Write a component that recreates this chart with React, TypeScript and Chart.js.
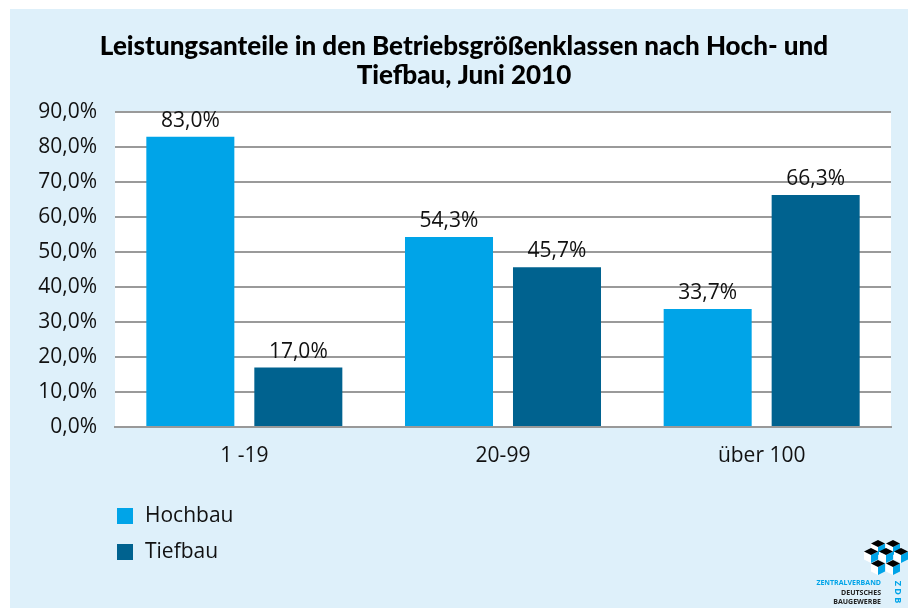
import React, { useEffect, useRef } from "react";
import { Chart, registerables } from "chart.js";

Chart.register(...registerables);

const titleLines = ["Leistungsanteile in den Betriebsgrößenklassen nach Hoch- und", "Tiefbau, Juni 2010"];
const categories = ["1 -19", "20-99", "über 100"];
const seriesNames = ["Hochbau", "Tiefbau"];
const hochbau = [83.0, 54.3, 33.7];
const tiefbau = [17.0, 45.7, 66.3];
const seriesColors = ["#00a4e8", "#00628f"];
const yMax = 90;
const yStep = 10;

const fmt = (v: number) => v.toFixed(1).replace(".", ",") + "%";
const FONT = "'Open Sans', 'Noto Sans', sans-serif";

const valueLabels = {
  id: "valueLabels",
  afterDatasetsDraw(chart: any) {
    const ctx = chart.ctx;
    ctx.save();
    ctx.font = `21px ${FONT}`;
    ctx.fillStyle = "#111";
    ctx.textAlign = "center";
    ctx.textBaseline = "middle";
    chart.data.datasets.forEach((ds: any, i: number) => {
      const meta = chart.getDatasetMeta(i);
      meta.data.forEach((bar: any, j: number) => {
        ctx.fillText(fmt(ds.data[j]), bar.x, bar.y - 16);
      });
    });
    ctx.restore();
  },
};

const customLegend = {
  id: "customLegend",
  afterDraw(chart: any) {
    const ctx = chart.ctx;
    ctx.save();
    ctx.font = `21px ${FONT}`;
    ctx.textBaseline = "middle";
    ctx.textAlign = "left";
    chart.data.datasets.forEach((ds: any, i: number) => {
      const y = 499 + i * 36;
      ctx.fillStyle = ds.backgroundColor;
      ctx.fillRect(107, y, 16, 16);
      ctx.fillStyle = "#111";
      ctx.fillText(ds.label, 135, y + 8);
    });
    ctx.restore();
  },
};

const logo = {
  id: "logo",
  afterDraw(chart: any) {
    const ctx = chart.ctx;
    ctx.save();
    const w = 14, h = 7, s = 8;
    const cubes = [
      [868, 531], [883, 531],
      [861, 539], [876, 539], [891, 539],
      [868, 551], [883, 551],
    ];
    cubes.forEach(([cx, ty]) => {
      ctx.fillStyle = "#ffffff";
      ctx.beginPath();
      ctx.moveTo(cx - w / 2, ty + h / 2);
      ctx.lineTo(cx, ty + h);
      ctx.lineTo(cx, ty + h + s);
      ctx.lineTo(cx - w / 2, ty + h / 2 + s);
      ctx.closePath();
      ctx.fill();
      ctx.fillStyle = "#00a4e8";
      ctx.beginPath();
      ctx.moveTo(cx + w / 2, ty + h / 2);
      ctx.lineTo(cx, ty + h);
      ctx.lineTo(cx, ty + h + s);
      ctx.lineTo(cx + w / 2, ty + h / 2 + s);
      ctx.closePath();
      ctx.fill();
      ctx.fillStyle = "#000000";
      ctx.beginPath();
      ctx.moveTo(cx, ty);
      ctx.lineTo(cx + w / 2, ty + h / 2);
      ctx.lineTo(cx, ty + h);
      ctx.lineTo(cx - w / 2, ty + h / 2);
      ctx.closePath();
      ctx.fill();
    });
    ctx.font = `bold 7px ${FONT}`;
    ctx.textAlign = "right";
    ctx.textBaseline = "middle";
    ctx.fillStyle = "#00a4e8";
    ctx.fillText("ZENTRALVERBAND", 871, 574);
    ctx.fillStyle = "#222";
    ctx.fillText("DEUTSCHES", 871, 584);
    ctx.fillText("BAUGEWERBE", 871, 593);
    ctx.translate(888, 583);
    ctx.rotate(Math.PI / 2);
    ctx.font = `bold 9px ${FONT}`;
    ctx.textAlign = "center";
    ctx.fillStyle = "#00a4e8";
    ctx.fillText("Z D B", 0, 0);
    ctx.restore();
  },
};

const plotBg = {
  id: "plotBg",
  beforeDraw(chart: any) {
    const { ctx, chartArea, width, height } = chart;
    ctx.save();
    ctx.fillStyle = "#def0fa";
    ctx.fillRect(0, 0, width, height);
    ctx.fillStyle = "#ffffff";
    ctx.fillRect(chartArea.left, chartArea.top, chartArea.right - chartArea.left, chartArea.bottom - chartArea.top);
    ctx.restore();
  },
};

export default function App() {
  const ref = useRef<HTMLCanvasElement | null>(null);
  useEffect(() => {
    if (!ref.current) return;
    const chart = new Chart(ref.current, {
      type: "bar",
      data: {
        labels: categories,
        datasets: [
          { label: seriesNames[0], data: hochbau, backgroundColor: seriesColors[0], categoryPercentage: 0.835, barPercentage: 0.815 },
          { label: seriesNames[1], data: tiefbau, backgroundColor: seriesColors[1], categoryPercentage: 0.835, barPercentage: 0.815 },
        ],
      },
      options: {
        responsive: false,
        animation: false,
        layout: { padding: { left: 27, right: 17, top: 0, bottom: 131 } },
        plugins: {
          legend: { display: false },
          tooltip: { enabled: false },
          title: {
            display: true,
            text: titleLines,
            color: "#000",
            font: { family: "Lato, sans-serif", size: 26, weight: "900", lineHeight: 1.08 },
            padding: { top: 24, bottom: 23 },
          },
        },
        scales: {
          x: {
            grid: { display: false, drawTicks: false },
            border: { display: true, color: "#999", width: 2 },
            ticks: { color: "#111", font: { family: FONT, size: 21 }, padding: 16 },
            afterFit: (s: any) => { s.height = 50; },
          },
          y: {
            min: 0,
            max: yMax,
            grid: { color: "#9a9a9a", lineWidth: 2, drawTicks: false },
            border: { display: false },
            ticks: {
              stepSize: yStep,
              color: "#111",
              font: { family: FONT, size: 21 },
              padding: 18,
              callback: (v: any) => fmt(Number(v)),
            },
            afterFit: (s: any) => { s.width = 78; },
          },
        },
      },
      plugins: [plotBg, valueLabels, customLegend, logo],
    } as any);
    return () => chart.destroy();
  }, []);
  return (
    <div style={{ position: "fixed", left: 10, top: 9 }}>
      <canvas ref={ref} width={898} height={599} style={{ display: "block", width: 898, height: 599 }} />
    </div>
  );
}
